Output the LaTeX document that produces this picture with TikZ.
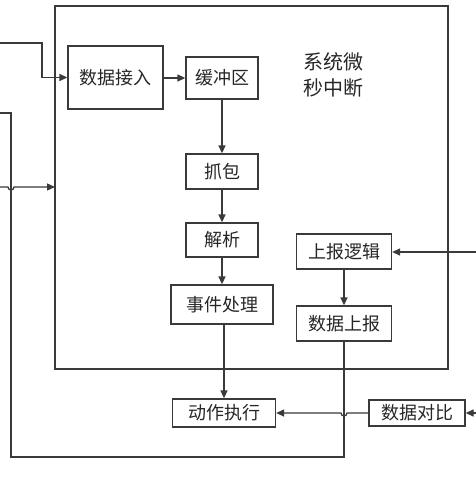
\documentclass[tikz,border=0pt]{standalone}
\usepackage{fontspec}
\setmainfont{Noto Sans CJK SC}
\usetikzlibrary{arrows.meta}
\definecolor{ln}{HTML}{3A3A3A}
\begin{document}
\begin{tikzpicture}[x=1pt,y=-1pt,
  box/.style={draw=ln,line width=1.3pt,inner sep=0pt,font=\fontsize{18}{20}\selectfont,text=black!85},
  conn/.style={draw=ln,line width=1.3pt},
  arr/.style={conn,-{Triangle[length=8pt,width=7pt]}}]
\useasboundingbox (0,0) rectangle (476,477);
\fill[white] (0,0) rectangle (476,477);
% outer frame
\draw[conn] (55,6) rectangle (448,369);
\node[font=\fontsize{20}{26}\selectfont,align=center,text=black!85] (lbl) at (333,75) {系统微\\秒中断};
% boxes
\node[box,minimum width=95pt,minimum height=63pt] (jr) at (115.5,77.5) {数据接入};
\node[box,minimum width=72pt,minimum height=42pt] (hc) at (222,78) {缓冲区};
\node[box,minimum width=72pt,minimum height=35pt] (zb) at (222,171.5) {抓包};
\node[box,minimum width=72pt,minimum height=34pt] (jx) at (222,240) {解析};
\node[box,minimum width=102pt,minimum height=39pt] (sj) at (222,304.5) {事件处理};
\node[box,minimum width=103pt,minimum height=28pt] (dz) at (224,413) {动作执行};
\node[box,minimum width=95pt,minimum height=35pt] (sb) at (344,251.5) {上报逻辑};
\node[box,minimum width=95pt,minimum height=35pt] (sjsb) at (344,323.5) {数据上报};
\node[box,minimum width=96pt,minimum height=26pt] (db) at (417,413) {数据对比};
% coordinates
\coordinate (inA) at (0,43);
\coordinate (inB) at (0,187);
\coordinate (inC) at (0,113);
\coordinate (frL) at (55,187);
\coordinate (inR1) at (476,252);
\coordinate (inR2) at (476,413);
% connectors
\draw[arr] (inA) -- (42,43) -- (42,77.5) -- (jr.west);
\draw[arr] (jr.east |- hc.west) -- (hc.west);
\draw[arr] (hc.south) -- (zb.north);
\draw[arr] (zb.south) -- (jx.north);
\draw[arr] (jx.south) -- (sj.north);
\draw[arr] (sj.south -| dz.north) -- (dz.north);
\draw[arr] (sb.south) -- (sjsb.north);
\draw[arr] (inR1) -- (sb.east |- inR1);
\draw[arr] (inR2) -- (db.east);
\draw[conn] (sjsb.south) -- (344,457) -- (11,457) -- (11,113) -- (inC);
\draw[arr] (inB) -- (8,187) arc[start angle=180,end angle=0,radius=3] -- (frL);
\draw[arr] (db.west) -- (347,413) arc[start angle=0,end angle=180,radius=3] -- (dz.east);
\end{tikzpicture}
\end{document}
